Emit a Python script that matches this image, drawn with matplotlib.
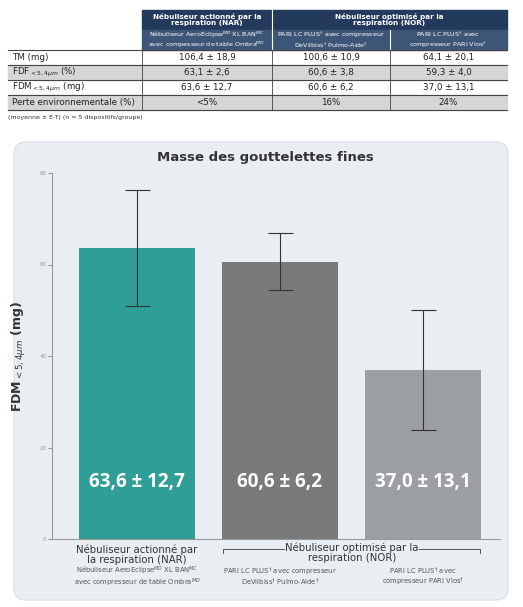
import matplotlib
matplotlib.use("Agg")
import matplotlib.pyplot as plt
from matplotlib.patches import FancyBboxPatch, Rectangle

categories = ["NAR", "NOR DeVilbiss", "NOR Vios"]
means = [63.6, 60.6, 37.0]
sds = [12.7, 6.2, 13.1]
bar_labels = ["63,6 ± 12,7", "60,6 ± 6,2", "37,0 ± 13,1"]
yticks = [0, 20, 40, 60, 80]
colors = ["#2e9e96", "#7a7a7a", "#9b9fa4"]

row_labels = ["TM (mg)", r"FDF$_{<5,4\mu m}$ (%)", r"FDM$_{<5,4\mu m}$ (mg)", "Perte environnementale (%)"]
table_vals = [["106,4 ± 18,9", "100,6 ± 10,9", "64,1 ± 20,1"],
              ["63,1 ± 2,6", "60,6 ± 3,8", "59,3 ± 4,0"],
              ["63,6 ± 12,7", "60,6 ± 6,2", "37,0 ± 13,1"],
              ["<5%", "16%", "24%"]]

fig = plt.figure(figsize=(5.23, 6.07), dpi=100)
bg = fig.add_axes([0, 0, 1, 1], zorder=0)
bg.set_xlim(0, 523); bg.set_ylim(607, 0); bg.axis("off")

# ---- table ----
cols = [8, 142, 272, 390, 507]
navy = "#243a5c"; slate = "#3d5577"
bg.add_patch(Rectangle((142, 10), 365, 20, color=navy))
bg.add_patch(Rectangle((142, 30), 365, 20, color=slate))
bg.plot([272, 272], [10, 50], color="white", lw=0.8)
bg.plot([390, 390], [30, 50], color="white", lw=0.8)
bg.text(207, 20, "Nébuliseur actionné par la\nrespiration (NAR)", color="white", fontsize=5.2, fontweight="bold", ha="center", va="center", linespacing=1.0)
bg.text(389, 20, "Nébuliseur optimisé par la\nrespiration (NOR)", color="white", fontsize=5.2, fontweight="bold", ha="center", va="center", linespacing=1.0)
bg.text(207, 40, "Nébuliseur AeroEclipse$^{MD}$ XL BAN$^{MC}$\navec compesseur de table Ombra$^{MD}$", color="white", fontsize=4.6, ha="center", va="center", linespacing=1.0)
bg.text(331, 40, "PARI LC PLUS$^{\\dagger}$ avec compresseur\nDeVilbiss$^{\\dagger}$ Pulmo-Aide$^{\\dagger}$", color="white", fontsize=4.6, ha="center", va="center", linespacing=1.0)
bg.text(448, 40, "PARI LC PLUS$^{\\dagger}$ avec\ncompresseur PARI Vios$^{\\dagger}$", color="white", fontsize=4.6, ha="center", va="center", linespacing=1.0)
rt = [50, 65, 80, 95, 110]
for i in range(4):
    if i % 2 == 1:
        bg.add_patch(Rectangle((8, rt[i]), 499, 15, color="#d6d6d6"))
    bg.text(12, (rt[i] + rt[i+1]) / 2, row_labels[i], fontsize=6.3, va="center", color="#222")
    for j in range(3):
        bg.text((cols[j+1] + cols[j+2]) / 2, (rt[i] + rt[i+1]) / 2, table_vals[i][j], fontsize=6.3, ha="center", va="center", color="#222")
for y in rt:
    bg.plot([8, 507], [y, y], color="#444", lw=0.8)
for x in cols[1:4]:
    bg.plot([x, x], [50, 110], color="#444", lw=0.6)
bg.text(8, 117, "(moyenne ± É-T) (n = 5 dispositifs/groupe)", fontsize=4.5, va="center", color="#333")

# ---- panel ----
bg.add_patch(FancyBboxPatch((14, 142), 494, 458, boxstyle="round,pad=0,rounding_size=12", fc="#e9eef3", ec="#dde3ea", lw=1))
bg.text(265, 158, "Masse des gouttelettes fines", fontsize=9.5, fontweight="bold", ha="center", va="center", color="#333")

# bottom labels
bg.text(137, 555, "Nébuliseur actionné par\nla respiration (NAR)", fontsize=7.3, ha="center", va="center", color="#333", linespacing=0.95)
bg.text(352, 553, "Nébuliseur optimisé par la\nrespiration (NOR)", fontsize=7.3, ha="center", va="center", color="#333", linespacing=0.95)
bg.plot([223, 223, 284], [553, 549, 549], color="#555", lw=0.7)
bg.plot([419, 480, 480], [549, 549, 553], color="#555", lw=0.7)
for xc, t in [(137, "Nébuliseur AeroEclipse$^{MD}$ XL BAN$^{MC}$\navec compresseur de table Ombra$^{MD}$"),
              (280, "PARI LC PLUS$^{\\dagger}$ avec compresseur\nDeVilbiss$^{\\dagger}$ Pulmo-Aide$^{\\dagger}$"),
              (423, "PARI LC PLUS$^{\\dagger}$ avec\ncompresseur PARI Vios$^{\\dagger}$")]:
    bg.text(xc, 577, t, fontsize=4.9, ha="center", va="center", color="#555", linespacing=0.9)

# ---- chart ----
ax = fig.add_axes([52/523, 68/607, 448/523, 366/607], zorder=1)
ax.patch.set_alpha(0)
x = list(range(len(categories)))
ax.bar(x, means, width=0.81, color=colors, yerr=sds, error_kw=dict(ecolor="#333", elinewidth=0.8, capsize=9, capthick=0.8))
for xi, lab in zip(x, bar_labels):
    ax.text(xi, 12.5, lab, color="white", fontsize=13.5, fontweight="bold", ha="center", va="center", family="Open Sans")
ax.set_xlim(-0.594, 2.54)
ax.set_ylim(0, 80)
ax.set_yticks(yticks)
ax.tick_params(axis="y", labelsize=4, colors="#999", length=3, direction="out", pad=1)
ax.set_xticks([])
for s in ["top", "right"]:
    ax.spines[s].set_visible(False)
ax.spines["left"].set_color("#999")
ax.spines["bottom"].set_color("#999")
ax.set_ylabel(r"FDM$_{<5,4\mu m}$ (mg)", fontsize=9, fontweight="bold", color="#333", labelpad=8)

fig.savefig("out.png", dpi=100)
